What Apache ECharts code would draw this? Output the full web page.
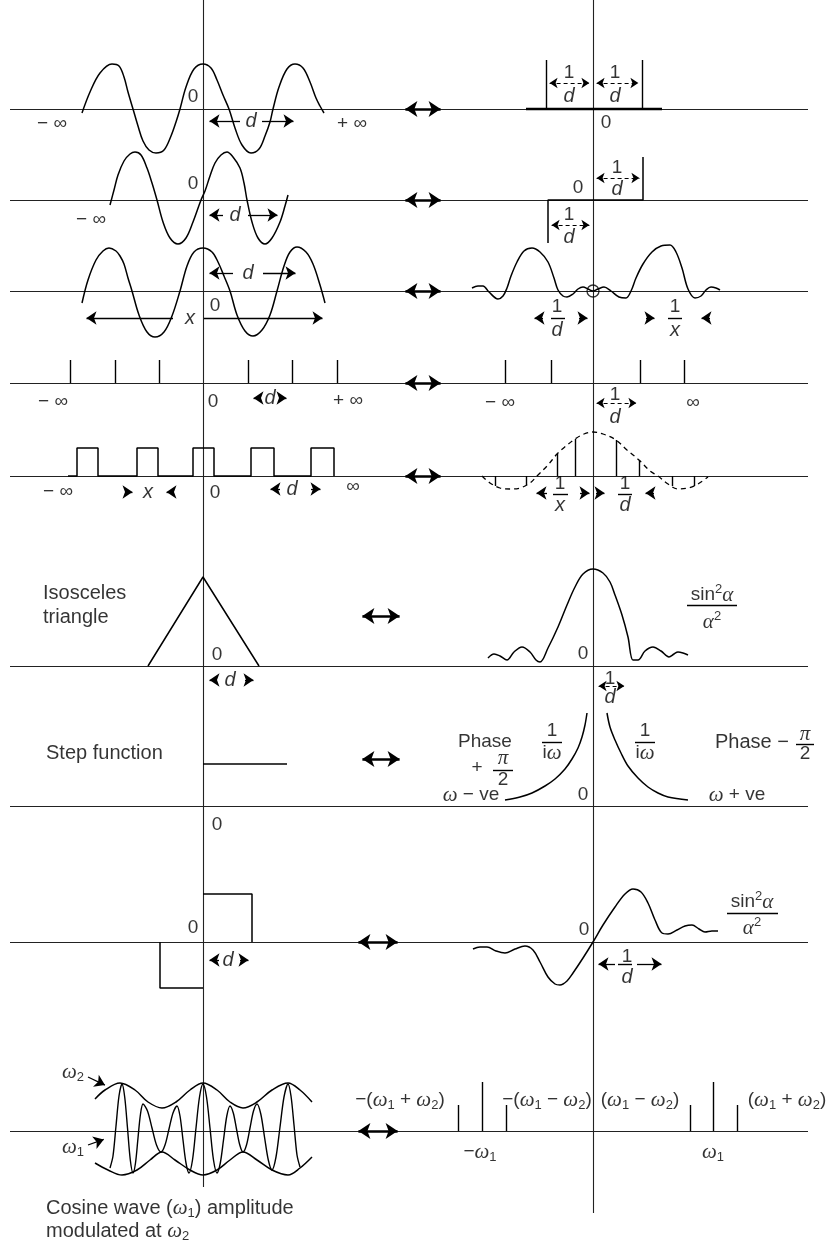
<!DOCTYPE html>
<html><head><meta charset="utf-8">
<script src="https://cdn.jsdelivr.net/npm/echarts@6/dist/echarts.min.js"></script>
<style>html,body{margin:0;padding:0;background:#fff}#c{width:831px;height:1245px}</style>
</head><body><div id="c"></div>
<script>
// ---------------- data (picture units) ----------------
const baselineY = [109, 200, 291, 383, 476, 666, 806, 942, 1131];
const baselineSpan = [10, 808];
const originAxes = [[203, 0, 1187], [593, 0, 1213]];   // x, top, bottom

// row 1 : cosine  <->  rectangle
const row1Wave = [[82,113],[90,92],[100,73],[112,64],[119,66],[124,77],[128,92],[133,109],[138,126],[143,141],[149,150],[156,153],[164,150],[171,136],[176,122],[180,109],[186,87],[194,69],[203,64],[211,68],[217,80],[223,95],[229,109],[235,128],[242,145],[251,153],[259,149],[265,136],[270,122],[273,109],[279,87],[287,69],[295,64],[303,68],[310,82],[316,98],[320,106],[324,113]];
const row1RectBase = [[526,109],[662,109]];
// row 2 : sine  <->  odd step
const row2Wave = [[110,205],[114,190],[118,175],[124,161],[130,154],[135,152],[141,155],[147,168],[152,183],[157,200],[163,222],[170,238],[178,244],[186,238],[193,222],[201,200],[205,191],[210,176],[215,163],[221,155],[227,152],[233,157],[240,168],[244,183],[247,200],[252,222],[258,238],[265,244],[272,238],[280,222],[285,206],[288,195]];
const row2Step = [[548,243],[548,200],[643,200],[643,157]];
// row 3 : finite cosine train  <->  spectrum
const row3Wave = [[82,303],[88,280],[96,260],[103,251],[109,248],[116,251],[120,256],[124,264],[128,278],[132,291],[139,315],[147,332],[155,337],[164,332],[172,316],[180,291],[187,266],[194,252],[203,248],[212,252],[218,262],[224,276],[230,291],[237,315],[245,331],[253,336],[262,330],[270,315],[277,291],[284,266],[290,252],[297,247],[306,252],[313,264],[320,285],[325,303]];
const row3Spec = [[472,288],[478,286],[483,286],[489,292],[498,299],[503,296],[507,288],[511,276],[517,262],[524,251],[532,248],[540,252],[548,262],[554,278],[558,290],[563,296],[567,297],[573,294],[578,289],[583,287],[588,289],[593,291],[598,289],[604,287],[611,291],[619,297],[626,298],[631,291],[636,278],[643,264],[652,252],[661,246],[670,245],[676,252],[682,268],[688,289],[695,298],[701,296],[706,290],[711,287],[716,288],[720,290]];
const row3Circle = [[593,291]];
// row 4 : comb  <->  comb
const combLeftX = [70,115,159,248,292,337];
const combRightX = [505,551,640,684];
const combTopY = 360;
// row 5 : pulse train  <->  sampled envelope
const row5Pulses = [[68,476],[77,476],[77,448],[98,448],[98,476],[137,476],[137,448],[158,448],[158,476],[193,476],[193,448],[214,448],[214,476],[251,476],[251,448],[274,448],[274,476],[311,476],[311,448],[334,448],[334,476]];
const row5Envelope = [[482,476],[490,483],[500,488],[510,489],[520,488],[530,483],[537,476],[548,465],[557,454],[566,446],[575,439],[584,434],[593,432],[603,434],[616,440],[627,450],[639,460],[650,471],[658,476],[668,484],[678,489],[688,488],[698,484],[708,477]];
const sampleX = [495,526,557,575,616,639,672,694];
const sampleTopY = [486,485,454,439,440,460,486,486];
// row 6 : triangle  <->  sinc^2
const row6Triangle = [[148,666],[203,577],[259,666]];
const row6Spec = [[488,658],[494,654],[500,656],[507,660],[514,652],[522,647],[530,652],[536,660],[540,662],[548,648],[558,627],[567,605],[575,587],[583,574],[593,569],[603,573],[610,582],[615,595],[622,615],[628,637],[633,660],[638,660],[645,651],[653,647],[661,651],[669,657],[674,654],[678,652],[683,653],[688,655]];
// row 7 : step  <->  1/iw
const row7Step = [[203,764],[287,764]];
const row7Left = [[505,800],[520,797],[532,793],[545,786],[555,779],[565,769],[572,759],[578,748],[582,737],[585,725],[587,713]];
const row7Right = [[607,713],[610,727],[615,740],[621,753],[628,766],[638,778],[648,787],[658,793],[668,797],[688,800]];
// row 8 : odd rectangles  <->  odd spectrum
const row8RectUp = [[203,894],[252,894],[252,942]];
const row8RectDown = [[160,942],[160,988],[203,988]];
const row8Spec = [[473,949],[480,947],[487,947],[496,951],[505,953],[515,949],[525,946],[533,950],[540,962],[548,977],[555,984],[560,985],[567,981],[573,973],[583,958],[593,942],[603,925],[615,907],[625,894],[633,889],[641,892],[648,903],[655,920],[662,933],[668,934],[677,930],[685,926],[692,925],[699,929],[705,932],[712,931],[718,931]];
// row 9 : AM wave  <->  line spectrum
const row9Upper = [[95,1099],[105,1090],[120,1083],[135,1090],[148,1102],[162,1108],[176,1102],[190,1090],[203,1083],[217,1090],[230,1102],[243,1108],[257,1102],[272,1090],[288,1083],[300,1090],[312,1102]];
const row9Lower = [[95,1163],[108,1170],[122,1175],[137,1170],[150,1160],[162,1152],[175,1160],[190,1170],[203,1175],[217,1170],[230,1160],[243,1152],[257,1160],[272,1170],[288,1175],[300,1168],[312,1157]];
const row9Carrier = [[110,1168],[113,1156],[116,1126],[119,1096],[122,1084],[124.7,1097],[127.5,1128],[130.3,1160],[133,1173],[135.5,1163],[138,1138],[140.5,1114],[143,1104],[147.5,1111],[152,1128],[156.5,1145],[161,1152],[165,1145],[169,1129],[173,1113],[177,1106],[180,1116],[183,1140],[186,1163],[189,1173],[192.5,1160],[196,1128],[199.5,1097],[203,1084],[206.5,1097],[210,1128],[213.5,1160],[217,1173],[220.3,1163],[223.5,1140],[226.8,1116],[230,1106],[233.3,1113],[236.5,1129],[239.8,1145],[243,1152],[246.5,1145],[250,1128],[253.5,1111],[257,1104],[260.8,1114],[264.5,1137],[268.3,1160],[272,1170],[276,1157],[280,1127],[284,1097],[288,1084],[291,1096],[294,1125],[297,1155],[300,1167]];
const spikeX = [458,482,506,690,713,737];
const spikeTopY = [1105,1082,1105,1105,1082,1105];

// short straight strokes [x1,y1,x2,y2]
const strokes = [
  [546,60,546,109],[642,60,642,109],
  [551,318,565,318],[668,318,682,318],
  [553,494,568,494],[618,494,632,494],
  [687,605,737,605],
  [542,742,562,742],[635,742,655,742],[493,770,513,770],[796,744,814,744],
  [727,913,778,913],[618,964,632,964]
];
// single-headed arrows [tailX,tailY,tipX,tipY]
const arrows = [
  [240,121,205,121],[262,121,298,121],
  [223,215,205,215],[248,215,282,215],
  [233,273,205,273],[263,273,300,273],[173,318,82,318],[204,318,327,318],
  [543,318,530,318],[579,318,592,318],[646,318,659,318],[710,318,697,318],
  [261,398,249,398],[279,398,291,398],
  [126,492,137,492],[173,492,162,492],[280,489,266,489],[311,489,325,489],
  [547,493,532,493],[580,493,594,493],[596,493,609,493],[654,493,641,493],
  [217,680,205,680],[245,680,258,680],
  [219,960,205,960],[240,960,253,960],[615,964,594,964],[637,964,666,964],
  [88,1077,109,1087],[88,1145,108,1138]
];
// dashed double arrows [x1,y1,x2,y2]
const dashedArrows = [[546,83,593,83],[593,83,642,83],[593,178,643,178],[548,225,593,225],[593,403,640,403],[595,686,628,686]];
// bold transform arrows
const pairArrows = [[400,109,446,109],[400,200,446,200],[400,291,446,291],[400,383,446,383],[400,476,446,476],[357,616,405,616],[357,759,405,759],[353,942,403,942],[353,1131,403,1131]];

// text labels [x, y, text, align]
const labels = [
 [193,97,'0'],[52,124,'− ∞'],[352,124,'+ ∞'],[251,121,'{i|d}'],[606,123,'0'],
 [569,73,'1'],[569,96,'{i|d}'],[615,73,'1'],[615,96,'{i|d}'],
 [193,184,'0'],[91,220,'− ∞'],[235,215,'{i|d}'],[578,188,'0'],
 [617,168,'1'],[617,189,'{i|d}'],[569,215,'1'],[569,237,'{i|d}'],
 [248,273,'{i|d}'],[215,306,'0'],[190,318,'{i|x}'],
 [557,307,'1'],[557,330,'{i|d}'],[675,307,'1'],[675,330,'{i|x}'],
 [53,402,'− ∞'],[213,402,'0'],[270,398,'{i|d}'],[348,401,'+ ∞'],
 [500,403,'− ∞'],[693,403,'∞'],[615,395,'1'],[615,417,'{i|d}'],
 [58,492,'− ∞'],[148,492,'{i|x}'],[215,493,'0'],[292,489,'{i|d}'],[353,487,'∞'],
 [560,484,'1'],[560,505,'{i|x}'],[625,484,'1'],[625,505,'{i|d}'],
 [43,593,'Isosceles','l'],[43,617,'triangle','l'],[217,655,'0'],[230,680,'{i|d}'],
 [583,654,'0'],[712,595,'sin{p|2}{g|α}'],[712,622,'{g|α}{p|2}'],[610,679,'1'],[610,697,'{i|d}'],
 [46,753,'Step function','l'],[485,742,'Phase'],[477,768,'+'],[503,758,'{g|π}'],[503,780,'2'],
 [471,795,'{g|ω} − ve'],[552,731,'1'],[552,753,'i{g|ω}'],[645,731,'1'],[645,753,'i{g|ω}'],
 [715,742,'Phase −','l'],[805,734,'{g|π}'],[805,754,'2'],[583,795,'0'],[737,795,'{g|ω} + ve'],
 [217,825,'0'],[193,928,'0'],[228,960,'{i|d}'],[584,930,'0'],
 [752,902,'sin{p|2}{g|α}'],[752,928,'{g|α}{p|2}'],[627,957,'1'],[627,977,'{i|d}'],
 [73,1072,'{g|ω}{s|2}'],[73,1147,'{g|ω}{s|1}'],
 [46,1208,'Cosine wave ({g|ω}{s|1}) amplitude','l'],[46,1231,'modulated at {g|ω}{s|2}','l'],
 [400,1100,'−({g|ω}{s|1} + {g|ω}{s|2})'],[547,1100,'−({g|ω}{s|1} − {g|ω}{s|2})'],
 [640,1100,'({g|ω}{s|1} − {g|ω}{s|2})'],[787,1100,'({g|ω}{s|1} + {g|ω}{s|2})'],
 [480,1152,'−{g|ω}{s|1}'],[713,1152,'{g|ω}{s|1}']
];

// ---------------- build chart ----------------
const INK = '#000', AX = '#222';
const FONT = 'Liberation Sans, Arial, sans-serif';
const series = [];
function segs(list, style, extra) {
  series.push(Object.assign({type:'lines', coordinateSystem:'cartesian2d', silent:true, z:2,
    lineStyle: Object.assign({color: INK, width: 1.3, opacity: 1}, style),
    data: list.map(s => ({coords: [[s[0], s[1]], [s[2], s[3]]]}))}, extra || {}));
}
function arrowData(list, size, both) {
  return list.map(a => {
    const dx = a[2]-a[0], dy = a[3]-a[1], L = Math.hypot(dx, dy), ux = dx/L, uy = dy/L, h = size*0.45;
    const s = both ? [a[0]+ux*h, a[1]+uy*h] : [a[0], a[1]];
    return {coords: [s, [a[2]-ux*h, a[3]-uy*h]]};
  });
}
function curve(pts, smooth, style) {
  series.push({type:'line', data: pts, smooth: smooth, showSymbol:false, symbol:'none', silent:true, z:3,
    lineStyle: Object.assign({color: INK, width: 1.5}, style)});
}

// axes
segs(baselineY.map(y => [baselineSpan[0], y, baselineSpan[1], y]), {color: AX, width: 1.1});
segs(originAxes.map(a => [a[0], a[1], a[0], a[2]]), {color: AX, width: 1.1});

// curves
[row1Wave, row2Wave, row3Wave, row3Spec, row6Spec, row7Left, row7Right, row8Spec, row9Upper, row9Lower]
  .forEach(c => curve(c, 0.35, {}));
curve(row9Carrier, 0.3, {width: 1.4});
curve(row5Envelope, 0.35, {type: [5, 4], width: 1.3});
[row2Step, row5Pulses, row6Triangle, row7Step, row8RectUp, row8RectDown].forEach(c => curve(c, false, {width: 1.5}));
curve(row1RectBase, false, {width: 2.6});

// ticks, samples, spikes, bars
const sticks = []
  .concat(combLeftX.map(x => [x, combTopY, x, baselineY[3]]))
  .concat(combRightX.map(x => [x, combTopY, x, baselineY[3]]))
  .concat(sampleX.map((x, i) => [x, baselineY[4], x, sampleTopY[i]]))
  .concat(spikeX.map((x, i) => [x, baselineY[8], x, spikeTopY[i]]))
  .concat(strokes);
segs(sticks, {width: 1.4});

// arrows
series.push({type:'lines', coordinateSystem:'cartesian2d', silent:true, z:4, symbol:['none','arrow'], symbolSize:10,
  lineStyle:{color: INK, width: 1.3, opacity: 1}, data: arrowData(arrows, 10, false)});
series.push({type:'lines', coordinateSystem:'cartesian2d', silent:true, z:4, symbol:['arrow','arrow'], symbolSize:8,
  lineStyle:{color: INK, width: 1.1, type:[4,3], opacity: 1}, data: arrowData(dashedArrows, 8, true)});
series.push({type:'lines', coordinateSystem:'cartesian2d', silent:true, z:4, symbol:['arrow','arrow'], symbolSize:12,
  lineStyle:{color: '#000', width: 2.6, opacity: 1}, data: arrowData(pairArrows, 12, true)});

// origin circle
series.push({type:'scatter', data: row3Circle, symbol:'circle', symbolSize: 12, silent:true, z:5,
  itemStyle:{color:'rgba(0,0,0,0)', borderColor: INK, borderWidth: 1.3}});

// labels
series.push({type:'scatter', symbolSize: 1, silent:true, z:10, itemStyle:{color:'rgba(255,255,255,0)'},
  data: labels.map(l => ({value:[l[0], l[1]], name: l[2],
    label: {align: l[3] === 'l' ? 'left' : 'center', fontSize: l[3] === 'l' ? 20 : 19}})),
  label: {show:true, position:[0.5, 0.5], verticalAlign:'middle', formatter: p => p.name, color:'#000',
    textBorderWidth: 0, fontFamily: FONT, fontSize: 19, lineHeight: 24,
    rich: {
      i: {fontStyle:'italic', fontFamily: FONT, fontSize: 20, color:'#000'},
      g: {fontStyle:'italic', fontFamily:'Liberation Serif, DejaVu Serif, serif', fontSize: 21, color:'#000'},
      s: {fontFamily: FONT, fontSize: 13, lineHeight: 13, verticalAlign:'bottom', color:'#000'},
      p: {fontFamily: FONT, fontSize: 13, lineHeight: 13, verticalAlign:'top', color:'#000'}
    }}
});

const chart = echarts.init(document.getElementById('c'), null, {renderer:'canvas', width: 831, height: 1245});
chart.setOption({
  animation: false,
  backgroundColor: '#fff',
  textStyle: {fontFamily: FONT},
  grid: {left: 0, right: 0, top: 0, bottom: 0, containLabel: false},
  xAxis: {type:'value', min: 0, max: 831, show: false},
  yAxis: {type:'value', min: 0, max: 1245, inverse: true, show: false},
  series: series
});
</script></body></html>
